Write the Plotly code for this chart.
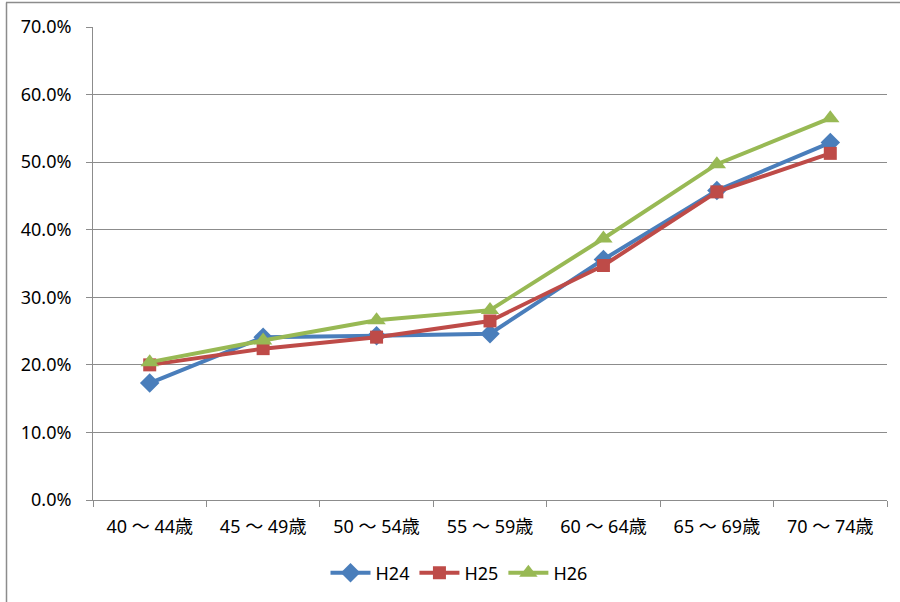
import plotly.graph_objects as go

# Age groups and rates per fiscal year
age_groups = ["40 ～ 44歳", "45 ～ 49歳", "50 ～ 54歳", "55 ～ 59歳",
              "60 ～ 64歳", "65 ～ 69歳", "70 ～ 74歳"]
h24 = [0.173, 0.241, 0.243, 0.246, 0.356, 0.458, 0.529]
h25 = [0.200, 0.224, 0.241, 0.265, 0.347, 0.456, 0.513]
h26 = [0.204, 0.236, 0.266, 0.281, 0.387, 0.497, 0.565]
y_ticks = [0.0, 0.1, 0.2, 0.3, 0.4, 0.5, 0.6, 0.7]

series = [
    ("H24", h24, "#4A7EBB", "diamond", 15),
    ("H25", h25, "#BE4B48", "square", 13),
    ("H26", h26, "#98B954", "triangle-up", 16),
]

FONT = "Noto Sans, Noto Sans CJK JP, sans-serif"
GRID = "#8C8C8C"

fig = go.Figure()
for name, vals, color, symbol, size in series:
    fig.add_trace(go.Scatter(
        x=age_groups, y=vals, name=name, mode="lines+markers",
        line=dict(color=color, width=4),
        marker=dict(symbol=symbol, size=size, color=color,
                    line=dict(width=0)),
    ))

W, H = 900, 602
ml, mr, mt, mb = 93, 13, 27, 102
pw, ph = W - ml - mr, H - mt - mb

def px_x(px):
    return (px - ml) / pw

def px_y(py):
    return (H - mb - py) / ph

fig.update_layout(
    width=W, height=H,
    margin=dict(l=ml, r=mr, t=mt, b=mb),
    paper_bgcolor="white", plot_bgcolor="white",
    font=dict(family=FONT, size=18, color="#000000"),
    showlegend=True,
    legend=dict(orientation="h", xref="container", yref="container",
                x=0.51, y=0.048, xanchor="center", yanchor="middle",
                font=dict(size=18), itemwidth=40, tracegroupgap=0),
    xaxis=dict(type="category", tickson="boundaries", ticks="outside",
               ticklen=6, tickcolor=GRID, showgrid=False,
               showline=True, linecolor=GRID, linewidth=1,
               range=[-0.5, 6.5], tickfont=dict(size=18),
               ticklabelstandoff=10),
    yaxis=dict(range=[0, 0.7], tickvals=y_ticks, tickformat=".1%",
               ticks="outside", ticklen=6, tickcolor=GRID,
               showgrid=True, gridcolor=GRID, gridwidth=1,
               showline=True, linecolor=GRID, linewidth=1,
               zeroline=False, tickfont=dict(size=18),
               ticklabelstandoff=11),
    shapes=[
        dict(type="line", xref="paper", yref="paper",
             x0=px_x(6), x1=px_x(900), y0=px_y(2.5), y1=px_y(2.5),
             line=dict(color=GRID, width=1.5)),
        dict(type="line", xref="paper", yref="paper",
             x0=px_x(6.5), x1=px_x(6.5), y0=px_y(2.5), y1=px_y(602),
             line=dict(color=GRID, width=1.5)),
    ],
)

fig.write_html("out.html")
